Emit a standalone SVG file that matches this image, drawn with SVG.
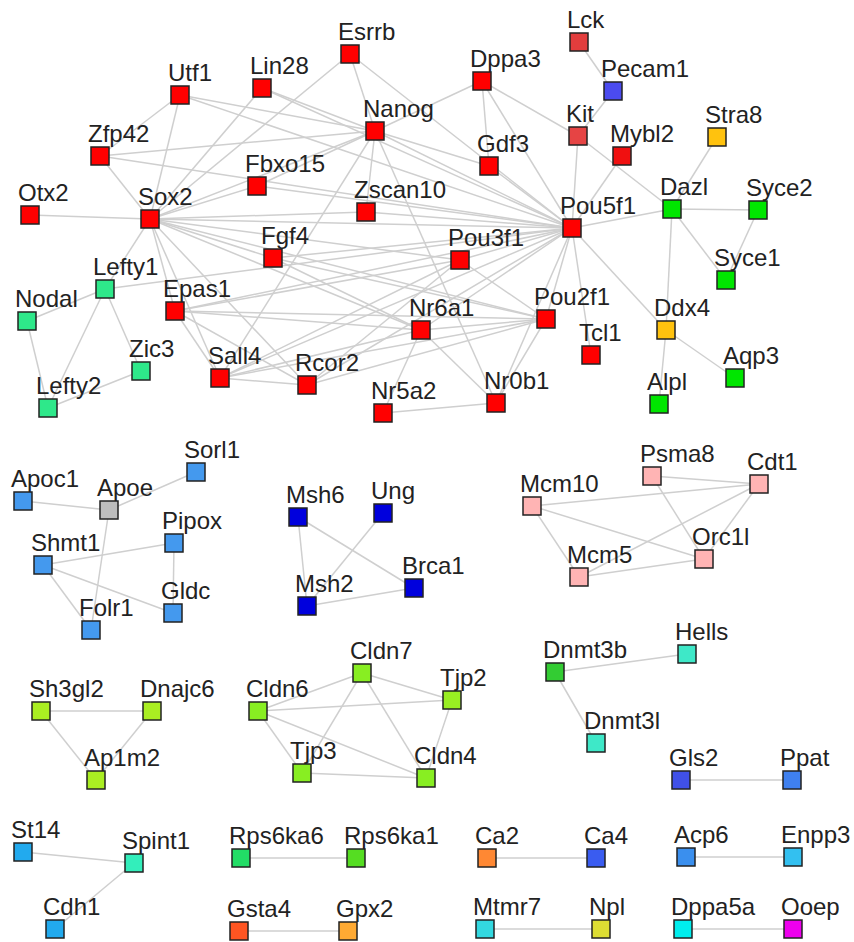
<svg xmlns="http://www.w3.org/2000/svg" width="854" height="942" viewBox="0 0 854 942">
<style>
.e{stroke:#cfcfcf;stroke-width:1.5;fill:none}
.n rect{stroke:#222;stroke-width:1.5}
.n text{font-family:"Liberation Sans",Arial,sans-serif;font-size:24px;fill:#222}
</style>
<rect width="854" height="942" fill="#fff"/>
<g id="edges">
<line class="e" x1="579" y1="42" x2="613" y2="91"/>
<line class="e" x1="613" y1="91" x2="578" y2="136"/>
<line class="e" x1="578" y1="136" x2="572" y2="228"/>
<line class="e" x1="578" y1="136" x2="672" y2="209"/>
<line class="e" x1="578" y1="136" x2="482" y2="81"/>
<line class="e" x1="622" y1="156" x2="572" y2="228"/>
<line class="e" x1="717" y1="137" x2="672" y2="209"/>
<line class="e" x1="672" y1="209" x2="758" y2="210"/>
<line class="e" x1="672" y1="209" x2="572" y2="228"/>
<line class="e" x1="672" y1="209" x2="726" y2="280"/>
<line class="e" x1="672" y1="209" x2="666" y2="330"/>
<line class="e" x1="758" y1="210" x2="726" y2="280"/>
<line class="e" x1="572" y1="228" x2="666" y2="330"/>
<line class="e" x1="666" y1="330" x2="659" y2="404"/>
<line class="e" x1="666" y1="330" x2="735" y2="378"/>
<line class="e" x1="572" y1="228" x2="591" y2="355"/>
<line class="e" x1="572" y1="228" x2="546" y2="319"/>
<line class="e" x1="482" y1="81" x2="375" y2="131"/>
<line class="e" x1="482" y1="81" x2="489" y2="166"/>
<line class="e" x1="482" y1="81" x2="572" y2="228"/>
<line class="e" x1="350" y1="54" x2="375" y2="131"/>
<line class="e" x1="350" y1="54" x2="150" y2="219"/>
<line class="e" x1="350" y1="54" x2="572" y2="228"/>
<line class="e" x1="375" y1="131" x2="572" y2="228"/>
<line class="e" x1="489" y1="166" x2="572" y2="228"/>
<line class="e" x1="375" y1="131" x2="489" y2="166"/>
<line class="e" x1="180" y1="95" x2="100" y2="156"/>
<line class="e" x1="180" y1="95" x2="150" y2="219"/>
<line class="e" x1="180" y1="95" x2="375" y2="131"/>
<line class="e" x1="180" y1="95" x2="572" y2="228"/>
<line class="e" x1="100" y1="156" x2="150" y2="219"/>
<line class="e" x1="100" y1="156" x2="375" y2="131"/>
<line class="e" x1="100" y1="156" x2="572" y2="228"/>
<line class="e" x1="262" y1="88" x2="150" y2="219"/>
<line class="e" x1="262" y1="88" x2="375" y2="131"/>
<line class="e" x1="262" y1="88" x2="572" y2="228"/>
<line class="e" x1="30" y1="215" x2="150" y2="219"/>
<line class="e" x1="150" y1="219" x2="375" y2="131"/>
<line class="e" x1="150" y1="219" x2="257" y2="186"/>
<line class="e" x1="150" y1="219" x2="366" y2="212"/>
<line class="e" x1="150" y1="219" x2="572" y2="228"/>
<line class="e" x1="150" y1="219" x2="273" y2="258"/>
<line class="e" x1="150" y1="219" x2="460" y2="260"/>
<line class="e" x1="150" y1="219" x2="105" y2="289"/>
<line class="e" x1="150" y1="219" x2="175" y2="311"/>
<line class="e" x1="150" y1="219" x2="220" y2="378"/>
<line class="e" x1="150" y1="219" x2="307" y2="385"/>
<line class="e" x1="150" y1="219" x2="421" y2="330"/>
<line class="e" x1="150" y1="219" x2="546" y2="319"/>
<line class="e" x1="257" y1="186" x2="375" y2="131"/>
<line class="e" x1="257" y1="186" x2="572" y2="228"/>
<line class="e" x1="366" y1="212" x2="572" y2="228"/>
<line class="e" x1="366" y1="212" x2="375" y2="131"/>
<line class="e" x1="273" y1="258" x2="572" y2="228"/>
<line class="e" x1="273" y1="258" x2="421" y2="330"/>
<line class="e" x1="273" y1="258" x2="546" y2="319"/>
<line class="e" x1="460" y1="260" x2="572" y2="228"/>
<line class="e" x1="460" y1="260" x2="546" y2="319"/>
<line class="e" x1="460" y1="260" x2="175" y2="311"/>
<line class="e" x1="460" y1="260" x2="220" y2="378"/>
<line class="e" x1="460" y1="260" x2="307" y2="385"/>
<line class="e" x1="375" y1="131" x2="496" y2="403"/>
<line class="e" x1="375" y1="131" x2="220" y2="378"/>
<line class="e" x1="105" y1="289" x2="27" y2="321"/>
<line class="e" x1="105" y1="289" x2="141" y2="371"/>
<line class="e" x1="105" y1="289" x2="48" y2="408"/>
<line class="e" x1="105" y1="289" x2="572" y2="228"/>
<line class="e" x1="27" y1="321" x2="48" y2="408"/>
<line class="e" x1="48" y1="408" x2="141" y2="371"/>
<line class="e" x1="175" y1="311" x2="572" y2="228"/>
<line class="e" x1="175" y1="311" x2="546" y2="319"/>
<line class="e" x1="175" y1="311" x2="421" y2="330"/>
<line class="e" x1="175" y1="311" x2="220" y2="378"/>
<line class="e" x1="175" y1="311" x2="307" y2="385"/>
<line class="e" x1="220" y1="378" x2="572" y2="228"/>
<line class="e" x1="220" y1="378" x2="421" y2="330"/>
<line class="e" x1="220" y1="378" x2="546" y2="319"/>
<line class="e" x1="220" y1="378" x2="307" y2="385"/>
<line class="e" x1="307" y1="385" x2="572" y2="228"/>
<line class="e" x1="307" y1="385" x2="546" y2="319"/>
<line class="e" x1="421" y1="330" x2="383" y2="413"/>
<line class="e" x1="421" y1="330" x2="496" y2="403"/>
<line class="e" x1="421" y1="330" x2="572" y2="228"/>
<line class="e" x1="421" y1="330" x2="546" y2="319"/>
<line class="e" x1="383" y1="413" x2="496" y2="403"/>
<line class="e" x1="496" y1="403" x2="546" y2="319"/>
<line class="e" x1="496" y1="403" x2="572" y2="228"/>
<!-- lower clusters -->
<line class="e" x1="23" y1="501" x2="109" y2="510"/>
<line class="e" x1="109" y1="510" x2="196" y2="472"/>
<line class="e" x1="109" y1="510" x2="91" y2="630"/>
<line class="e" x1="43" y1="565" x2="174" y2="543"/>
<line class="e" x1="43" y1="565" x2="173" y2="613"/>
<line class="e" x1="43" y1="565" x2="91" y2="630"/>
<line class="e" x1="174" y1="543" x2="173" y2="613"/>
<line class="e" x1="298" y1="517" x2="307" y2="606"/>
<line class="e" x1="298" y1="517" x2="414" y2="588"/>
<line class="e" x1="383" y1="513" x2="307" y2="606"/>
<line class="e" x1="307" y1="606" x2="414" y2="588"/>
<line class="e" x1="652" y1="476" x2="759" y2="484"/>
<line class="e" x1="652" y1="476" x2="704" y2="559"/>
<line class="e" x1="532" y1="506" x2="759" y2="484"/>
<line class="e" x1="532" y1="506" x2="704" y2="559"/>
<line class="e" x1="532" y1="506" x2="579" y2="577"/>
<line class="e" x1="579" y1="577" x2="759" y2="484"/>
<line class="e" x1="579" y1="577" x2="704" y2="559"/>
<line class="e" x1="759" y1="484" x2="704" y2="559"/>
<line class="e" x1="41" y1="711" x2="152" y2="711"/>
<line class="e" x1="41" y1="711" x2="96" y2="780"/>
<line class="e" x1="152" y1="711" x2="96" y2="780"/>
<line class="e" x1="258" y1="711" x2="362" y2="673"/>
<line class="e" x1="258" y1="711" x2="452" y2="700"/>
<line class="e" x1="258" y1="711" x2="302" y2="773"/>
<line class="e" x1="258" y1="711" x2="426" y2="778"/>
<line class="e" x1="362" y1="673" x2="452" y2="700"/>
<line class="e" x1="362" y1="673" x2="302" y2="773"/>
<line class="e" x1="362" y1="673" x2="426" y2="778"/>
<line class="e" x1="302" y1="773" x2="426" y2="778"/>
<line class="e" x1="452" y1="700" x2="426" y2="778"/>
<line class="e" x1="555" y1="672" x2="687" y2="654"/>
<line class="e" x1="555" y1="672" x2="596" y2="743"/>
<line class="e" x1="681" y1="780" x2="792" y2="780"/>
<line class="e" x1="23" y1="852" x2="134" y2="863"/>
<line class="e" x1="134" y1="863" x2="55" y2="929"/>
<line class="e" x1="241" y1="858" x2="356" y2="858"/>
<line class="e" x1="239" y1="931" x2="348" y2="931"/>
<line class="e" x1="487" y1="858" x2="596" y2="858"/>
<line class="e" x1="686" y1="857" x2="793" y2="857"/>
<line class="e" x1="485" y1="929" x2="601" y2="929"/>
<line class="e" x1="683" y1="929" x2="793" y2="929"/>
</g>
<g id="n-Lck" class="n"><rect x="570" y="33" width="18" height="18" fill="#e23d3d"/><text x="567" y="28">Lck</text></g>
<g id="n-Pecam1" class="n"><rect x="604" y="82" width="18" height="18" fill="#4b4bef"/><text x="601" y="77">Pecam1</text></g>
<g id="n-Kit" class="n"><rect x="569" y="127" width="18" height="18" fill="#e64444"/><text x="566" y="122">Kit</text></g>
<g id="n-Mybl2" class="n"><rect x="613" y="147" width="18" height="18" fill="#f01010"/><text x="610" y="142">Mybl2</text></g>
<g id="n-Stra8" class="n"><rect x="708" y="128" width="18" height="18" fill="#ffc20e"/><text x="705" y="123">Stra8</text></g>
<g id="n-Dazl" class="n"><rect x="663" y="200" width="18" height="18" fill="#00e600"/><text x="660" y="195">Dazl</text></g>
<g id="n-Syce2" class="n"><rect x="749" y="201" width="18" height="18" fill="#00e600"/><text x="746" y="196">Syce2</text></g>
<g id="n-Syce1" class="n"><rect x="717" y="271" width="18" height="18" fill="#00e600"/><text x="714" y="266">Syce1</text></g>
<g id="n-Ddx4" class="n"><rect x="657" y="321" width="18" height="18" fill="#ffc20e"/><text x="654" y="316">Ddx4</text></g>
<g id="n-Aqp3" class="n"><rect x="726" y="369" width="18" height="18" fill="#00e600"/><text x="723" y="364">Aqp3</text></g>
<g id="n-Alpl" class="n"><rect x="650" y="395" width="18" height="18" fill="#00e600"/><text x="647" y="390">Alpl</text></g>
<g id="n-Tcl1" class="n"><rect x="582" y="346" width="18" height="18" fill="#ff0000"/><text x="579" y="341">Tcl1</text></g>
<g id="n-Pou2f1" class="n"><rect x="537" y="310" width="18" height="18" fill="#ff0000"/><text x="534" y="305">Pou2f1</text></g>
<g id="n-Pou5f1" class="n"><rect x="563" y="219" width="18" height="18" fill="#ff0000"/><text x="560" y="214">Pou5f1</text></g>
<g id="n-Esrrb" class="n"><rect x="341" y="45" width="18" height="18" fill="#ff0000"/><text x="338" y="40">Esrrb</text></g>
<g id="n-Dppa3" class="n"><rect x="473" y="72" width="18" height="18" fill="#ff0000"/><text x="470" y="67">Dppa3</text></g>
<g id="n-Nanog" class="n"><rect x="366" y="122" width="18" height="18" fill="#ff0000"/><text x="363" y="117">Nanog</text></g>
<g id="n-Gdf3" class="n"><rect x="480" y="157" width="18" height="18" fill="#ff0000"/><text x="477" y="152">Gdf3</text></g>
<g id="n-Lin28" class="n"><rect x="253" y="79" width="18" height="18" fill="#ff0000"/><text x="250" y="74">Lin28</text></g>
<g id="n-Utf1" class="n"><rect x="171" y="86" width="18" height="18" fill="#ff0000"/><text x="168" y="81">Utf1</text></g>
<g id="n-Zfp42" class="n"><rect x="91" y="147" width="18" height="18" fill="#ff0000"/><text x="88" y="142">Zfp42</text></g>
<g id="n-Fbxo15" class="n"><rect x="248" y="177" width="18" height="18" fill="#ff0000"/><text x="245" y="172">Fbxo15</text></g>
<g id="n-Zscan10" class="n"><rect x="357" y="203" width="18" height="18" fill="#ff0000"/><text x="354" y="198">Zscan10</text></g>
<g id="n-Otx2" class="n"><rect x="21" y="206" width="18" height="18" fill="#ff0000"/><text x="18" y="201">Otx2</text></g>
<g id="n-Sox2" class="n"><rect x="141" y="210" width="18" height="18" fill="#ff0000"/><text x="138" y="205">Sox2</text></g>
<g id="n-Fgf4" class="n"><rect x="264" y="249" width="18" height="18" fill="#ff0000"/><text x="261" y="244">Fgf4</text></g>
<g id="n-Pou3f1" class="n"><rect x="451" y="251" width="18" height="18" fill="#ff0000"/><text x="448" y="246">Pou3f1</text></g>
<g id="n-Lefty1" class="n"><rect x="96" y="280" width="18" height="18" fill="#2ee88a"/><text x="93" y="275">Lefty1</text></g>
<g id="n-Epas1" class="n"><rect x="166" y="302" width="18" height="18" fill="#ff0000"/><text x="163" y="297">Epas1</text></g>
<g id="n-Nodal" class="n"><rect x="18" y="312" width="18" height="18" fill="#2ee88a"/><text x="15" y="307">Nodal</text></g>
<g id="n-Nr6a1" class="n"><rect x="412" y="321" width="18" height="18" fill="#ff0000"/><text x="409" y="316">Nr6a1</text></g>
<g id="n-Zic3" class="n"><rect x="132" y="362" width="18" height="18" fill="#2ee88a"/><text x="129" y="357">Zic3</text></g>
<g id="n-Sall4" class="n"><rect x="211" y="369" width="18" height="18" fill="#ff0000"/><text x="208" y="364">Sall4</text></g>
<g id="n-Rcor2" class="n"><rect x="298" y="376" width="18" height="18" fill="#ff0000"/><text x="295" y="371">Rcor2</text></g>
<g id="n-Lefty2" class="n"><rect x="39" y="399" width="18" height="18" fill="#2ee88a"/><text x="36" y="394">Lefty2</text></g>
<g id="n-Nr5a2" class="n"><rect x="374" y="404" width="18" height="18" fill="#ff0000"/><text x="371" y="399">Nr5a2</text></g>
<g id="n-Nr0b1" class="n"><rect x="487" y="394" width="18" height="18" fill="#ff0000"/><text x="484" y="389">Nr0b1</text></g>
<g id="n-Sorl1" class="n"><rect x="187" y="463" width="18" height="18" fill="#4499ee"/><text x="184" y="458">Sorl1</text></g>
<g id="n-Apoc1" class="n"><rect x="14" y="492" width="18" height="18" fill="#4499ee"/><text x="11" y="487">Apoc1</text></g>
<g id="n-Apoe" class="n"><rect x="100" y="501" width="18" height="18" fill="#bdbdbd"/><text x="97" y="496">Apoe</text></g>
<g id="n-Pipox" class="n"><rect x="165" y="534" width="18" height="18" fill="#4499ee"/><text x="162" y="529">Pipox</text></g>
<g id="n-Shmt1" class="n"><rect x="34" y="556" width="18" height="18" fill="#4499ee"/><text x="31" y="551">Shmt1</text></g>
<g id="n-Gldc" class="n"><rect x="164" y="604" width="18" height="18" fill="#4499ee"/><text x="161" y="599">Gldc</text></g>
<g id="n-Folr1" class="n"><rect x="82" y="621" width="18" height="18" fill="#4499ee"/><text x="79" y="616">Folr1</text></g>
<g id="n-Msh6" class="n"><rect x="289" y="508" width="18" height="18" fill="#0000dd"/><text x="286" y="503">Msh6</text></g>
<g id="n-Ung" class="n"><rect x="374" y="504" width="18" height="18" fill="#0000dd"/><text x="371" y="499">Ung</text></g>
<g id="n-Brca1" class="n"><rect x="405" y="579" width="18" height="18" fill="#0000dd"/><text x="402" y="574">Brca1</text></g>
<g id="n-Msh2" class="n"><rect x="298" y="597" width="18" height="18" fill="#0000dd"/><text x="295" y="592">Msh2</text></g>
<g id="n-Psma8" class="n"><rect x="643" y="467" width="18" height="18" fill="#ffb4b4"/><text x="640" y="462">Psma8</text></g>
<g id="n-Cdt1" class="n"><rect x="750" y="475" width="18" height="18" fill="#ffb4b4"/><text x="747" y="470">Cdt1</text></g>
<g id="n-Mcm10" class="n"><rect x="523" y="497" width="18" height="18" fill="#ffb4b4"/><text x="520" y="492">Mcm10</text></g>
<g id="n-Orc1l" class="n"><rect x="695" y="550" width="18" height="18" fill="#ffb4b4"/><text x="692" y="545">Orc1l</text></g>
<g id="n-Mcm5" class="n"><rect x="570" y="568" width="18" height="18" fill="#ffb4b4"/><text x="567" y="563">Mcm5</text></g>
<g id="n-Sh3gl2" class="n"><rect x="32" y="702" width="18" height="18" fill="#aaee22"/><text x="29" y="697">Sh3gl2</text></g>
<g id="n-Dnajc6" class="n"><rect x="143" y="702" width="18" height="18" fill="#aaee22"/><text x="140" y="697">Dnajc6</text></g>
<g id="n-Ap1m2" class="n"><rect x="87" y="771" width="18" height="18" fill="#aaee22"/><text x="84" y="766">Ap1m2</text></g>
<g id="n-Cldn6" class="n"><rect x="249" y="702" width="18" height="18" fill="#88ee22"/><text x="246" y="697">Cldn6</text></g>
<g id="n-Cldn7" class="n"><rect x="353" y="664" width="18" height="18" fill="#88ee22"/><text x="350" y="659">Cldn7</text></g>
<g id="n-Tjp2" class="n"><rect x="443" y="691" width="18" height="18" fill="#99ee22"/><text x="440" y="686">Tjp2</text></g>
<g id="n-Tjp3" class="n"><rect x="293" y="764" width="18" height="18" fill="#88ee22"/><text x="290" y="759">Tjp3</text></g>
<g id="n-Cldn4" class="n"><rect x="417" y="769" width="18" height="18" fill="#88ee22"/><text x="414" y="764">Cldn4</text></g>
<g id="n-Dnmt3b" class="n"><rect x="546" y="663" width="18" height="18" fill="#33cc33"/><text x="543" y="658">Dnmt3b</text></g>
<g id="n-Hells" class="n"><rect x="678" y="645" width="18" height="18" fill="#3ee8c8"/><text x="675" y="640">Hells</text></g>
<g id="n-Dnmt3l" class="n"><rect x="587" y="734" width="18" height="18" fill="#3ee8c8"/><text x="584" y="729">Dnmt3l</text></g>
<g id="n-Gls2" class="n"><rect x="672" y="771" width="18" height="18" fill="#4050e8"/><text x="669" y="766">Gls2</text></g>
<g id="n-Ppat" class="n"><rect x="783" y="771" width="18" height="18" fill="#3f80ef"/><text x="780" y="766">Ppat</text></g>
<g id="n-St14" class="n"><rect x="14" y="843" width="18" height="18" fill="#22aaee"/><text x="11" y="838">St14</text></g>
<g id="n-Spint1" class="n"><rect x="125" y="854" width="18" height="18" fill="#33eebb"/><text x="122" y="849">Spint1</text></g>
<g id="n-Cdh1" class="n"><rect x="46" y="920" width="18" height="18" fill="#22aaee"/><text x="43" y="915">Cdh1</text></g>
<g id="n-Rps6ka6" class="n"><rect x="232" y="849" width="18" height="18" fill="#22dd66"/><text x="229" y="844">Rps6ka6</text></g>
<g id="n-Rps6ka1" class="n"><rect x="347" y="849" width="18" height="18" fill="#55dd22"/><text x="344" y="844">Rps6ka1</text></g>
<g id="n-Gsta4" class="n"><rect x="230" y="922" width="18" height="18" fill="#ff5522"/><text x="227" y="917">Gsta4</text></g>
<g id="n-Gpx2" class="n"><rect x="339" y="922" width="18" height="18" fill="#ffaa33"/><text x="336" y="917">Gpx2</text></g>
<g id="n-Ca2" class="n"><rect x="478" y="849" width="18" height="18" fill="#ff8833"/><text x="475" y="844">Ca2</text></g>
<g id="n-Ca4" class="n"><rect x="587" y="849" width="18" height="18" fill="#3a5cf0"/><text x="584" y="844">Ca4</text></g>
<g id="n-Acp6" class="n"><rect x="677" y="848" width="18" height="18" fill="#3a8fee"/><text x="674" y="843">Acp6</text></g>
<g id="n-Enpp3" class="n"><rect x="784" y="848" width="18" height="18" fill="#33c0f0"/><text x="781" y="843">Enpp3</text></g>
<g id="n-Mtmr7" class="n"><rect x="476" y="920" width="18" height="18" fill="#33d8e0"/><text x="473" y="915">Mtmr7</text></g>
<g id="n-Npl" class="n"><rect x="592" y="920" width="18" height="18" fill="#dddd33"/><text x="589" y="915">Npl</text></g>
<g id="n-Dppa5a" class="n"><rect x="674" y="920" width="18" height="18" fill="#00eeee"/><text x="671" y="915">Dppa5a</text></g>
<g id="n-Ooep" class="n"><rect x="784" y="920" width="18" height="18" fill="#ee00ee"/><text x="781" y="915">Ooep</text></g>
</svg>
